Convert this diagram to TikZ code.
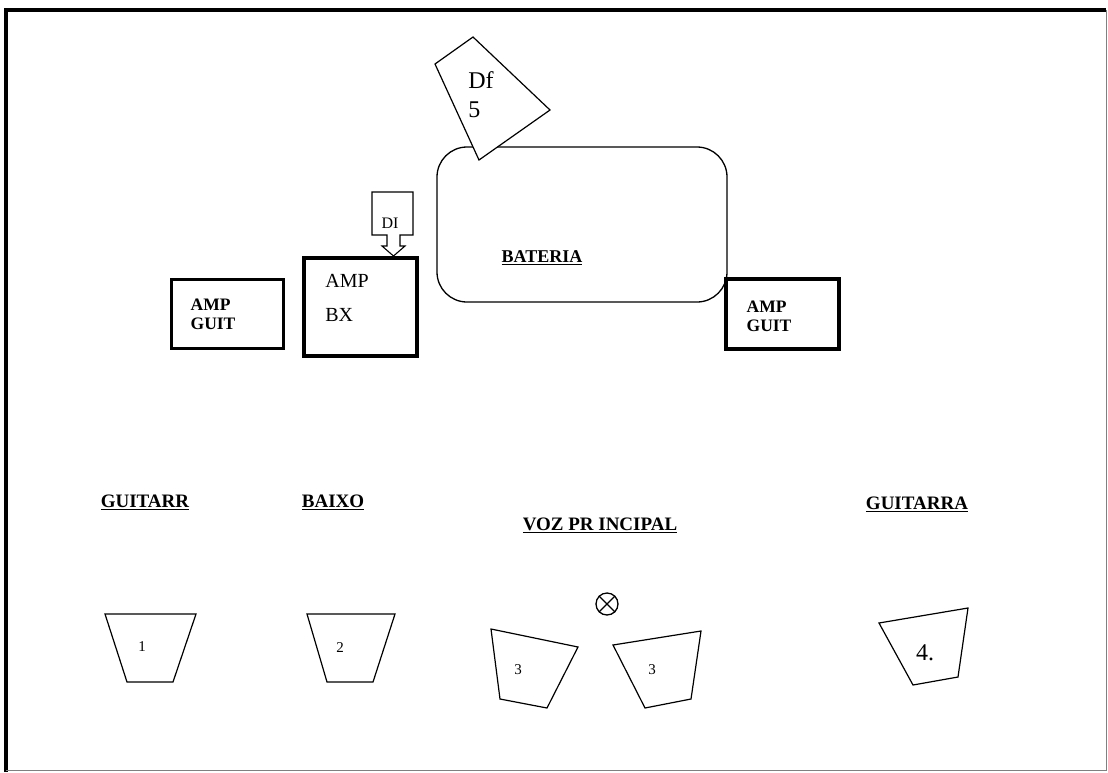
\documentclass[tikz,border=0pt]{standalone}
\usepackage{fontspec}
\setmainfont{Liberation Serif}
\usepackage{tikz}
\usetikzlibrary{positioning}

\begin{document}
\begin{tikzpicture}[
  x=1pt,y=-1pt,
  frame/.style={line width=4pt},
  ampbox/.style={draw,line width=3.6pt,fill=white,minimum width=112pt,minimum height=69pt,inner sep=0pt},
  amptext/.style={align=left,font=\bfseries\fontsize{17.5}{19}\selectfont,inner sep=0pt},
  wedge/.style={draw,line width=1.2pt,fill=white,line join=miter},
  num/.style={font=\fontsize{15}{17}\selectfont,inner sep=0pt},
  title/.style={font=\bfseries\fontsize{19}{21}\selectfont,inner sep=0pt}
]
\useasboundingbox (0,0) rectangle (1108,772);
\draw[frame] (6,772) -- (6,10) -- (1106,10);
\draw[gray,line width=1pt] (1106,10) -- (1106,770) -- (6,770);

% drum kit and its mic
\draw[line width=1.3pt,rounded corners=30pt] (437,147) rectangle (727,302);
\node[title,font=\bfseries\fontsize{18}{20}\selectfont] (bateria) at (542,258) {\underline{BATERIA}};
\draw[wedge] (435,64) -- (473,37) -- (550,110) -- (479,160) -- cycle;
\node[font=\fontsize{24}{29}\selectfont,align=left,inner sep=0pt] (df) at (481,95) {Df\\5};

% amps
\node[ampbox] (ampL) at (227.5,314) {};
\node[amptext] (ampLtxt) at (213,314) {AMP\\GUIT};
\node[ampbox,minimum width=113pt,minimum height=98pt] (ampBX) at (360.5,307) {};
\node[align=left,font=\fontsize{20}{34}\selectfont,inner sep=0pt] (ampBXtxt) at (347,298) {AMP\\BX};
\node[ampbox,minimum width=113pt,minimum height=70pt] (ampR) at (782.5,314) {};
\node[amptext] (ampRtxt) at (769,316) {AMP\\GUIT};

% DI callout
\draw[line width=1.1pt,fill=white] (372,192) -- (413,192) -- (413,235) -- (400,235) -- (400,246)
  -- (405,246) -- (393.5,256) -- (382,246) -- (387,246) -- (387,235) -- (372,235) -- cycle;
\node[font=\fontsize{16}{18}\selectfont,inner sep=0pt] (di) at (390,223) {DI};

% front line
\node[title] (guitL) at (145,502) {\underline{GUITARR}};
\node[title] (baixo) at (333,502) {\underline{BAIXO}};
\node[title] (voz) at (600,525) {\underline{VOZ PR INCIPAL}};
\node[title] (guitR) at (917,504) {\underline{GUITARRA}};

\node[circle,draw,line width=1.3pt,minimum size=22pt,inner sep=0pt] (mic) at (607,604) {};
\draw[line width=1.3pt] (mic.north west) -- (mic.south east);
\draw[line width=1.3pt] (mic.north east) -- (mic.south west);

% monitors
\draw[wedge] (105,614) -- (196,614) -- (173,682) -- (127,682) -- cycle;
\node[num] (m1) at (142,647) {1};
\draw[wedge] (307,614) -- (395,614) -- (373,682) -- (327,682) -- cycle;
\node[num] (m2) at (340,648) {2};
\draw[wedge] (491,629) -- (578,647) -- (547,708) -- (500,699) -- cycle;
\node[num] (m3a) at (518,670) {3};
\draw[wedge] (613,645) -- (701,631) -- (691,699) -- (645,708) -- cycle;
\node[num] (m3b) at (652,670) {3};
\draw[wedge] (879,623) -- (968,608) -- (958,677) -- (913,685) -- cycle;
\node[font=\fontsize{24}{26}\selectfont,inner sep=0pt] (m4) at (925,653) {4.};
\end{tikzpicture}
\end{document}
